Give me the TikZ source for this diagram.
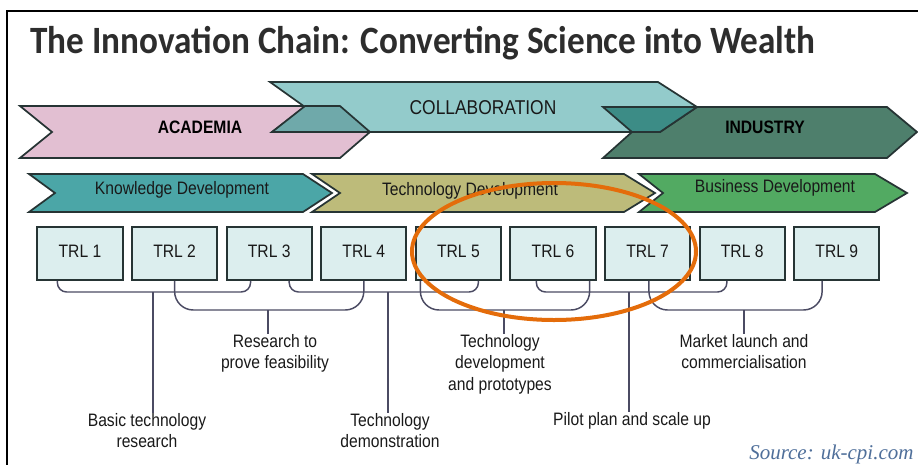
\documentclass[tikz,border=0pt]{standalone}
\usepackage{fontspec}
\setmainfont{Liberation Sans}
\newfontfamily\narrowfont[FakeStretch=0.87]{Liberation Sans}
\newfontfamily\titlefont[FakeStretch=0.91]{Carlito}
\newfontfamily\sourcefont{Liberation Serif}

\definecolor{outline}{RGB}{38,52,52}
\definecolor{academia}{RGB}{226,191,210}
\definecolor{collab}{RGB}{147,203,203}
\definecolor{acoverlap}{RGB}{111,169,170}
\definecolor{industry}{RGB}{78,127,108}
\definecolor{cioverlap}{RGB}{60,140,134}
\definecolor{knowledge}{RGB}{75,166,167}
\definecolor{techdev}{RGB}{189,187,122}
\definecolor{business}{RGB}{82,170,98}
\definecolor{trlfill}{RGB}{220,238,238}
\definecolor{brkline}{RGB}{75,75,99}
\definecolor{titlegray}{RGB}{45,45,45}
\definecolor{sourceblue}{RGB}{79,111,154}
\definecolor{ringorange}{RGB}{228,108,10}

\tikzset{every picture/.style={line width=0.75pt}}
\tikzset{
  chev/.style={draw=outline, line width=1.3pt, line join=miter},
  bandtext/.style={inner sep=0.75pt, text=black!90, font=\narrowfont\fontsize{13.5}{16}\selectfont},
  trlbox/.style={draw=outline, fill=trlfill, line width=1.5pt, minimum width=64pt, minimum height=39.5pt, inner sep=0pt, text depth=3pt, text=black!90, font=\narrowfont\fontsize{13.5}{15}\selectfont},
  brk/.style={draw=brkline, line width=1.1pt},
  steptext/.style={anchor=north, align=center, inner sep=0pt, text=black!90, font=\narrowfont\fontsize{13.5}{16}\selectfont},
}

\begin{document}
\begin{tikzpicture}[x=0.75pt,y=0.75pt,yscale=-1,xscale=1]
\useasboundingbox (0,0) rectangle (918,465);

%Frame
\draw [line width=1.2pt]  (918,11) -- (7,11) -- (7,465) ;

% Text Node
\node (title) [anchor=base west, inner sep=0pt, text=titlegray, font=\titlefont\bfseries\fontsize{29}{34}\selectfont] at (30,53) {The Innovation Chain: Converting Science into Wealth};

%Shape: Academia
\draw [chev, fill=academia] (20,106) -- (340,106) -- (370,132) -- (340,158) -- (20,158) -- (52,132) -- cycle ;
%Shape: Industry
\draw [chev, fill=industry] (603,107) -- (887,107) -- (917,132) -- (887,158) -- (603,158) -- (632,132) -- cycle ;
%Shape: Collaboration
\draw [chev, fill=collab] (270,82) -- (658,82) -- (697,107) -- (660,132) -- (272,132) -- (305,107) -- cycle ;
%Shape: overlaps
\draw [chev, fill=acoverlap] (305,106) -- (340,106) -- (370,132) -- (272,132) -- cycle ;
\draw [chev, fill=cioverlap] (603,107) -- (697,107) -- (660,132) -- (632,132) -- cycle ;

% Text Node
\node (academiatext) [bandtext, font=\narrowfont\bfseries\fontsize{13.5}{16}\selectfont, text=black] at (200,127) {ACADEMIA};
% Text Node
\node (collabtext) [bandtext, font=\narrowfont\fontsize{15}{18}\selectfont] at (483,108) {COLLABORATION};
% Text Node
\node (industrytext) [bandtext, font=\narrowfont\bfseries\fontsize{13.5}{16}\selectfont, text=black] at (765,127) {INDUSTRY};

%Shape: Knowledge Development
\draw [chev, fill=knowledge] (29,174) -- (303,174) -- (332,193) -- (303,212) -- (29,212) -- (55,193) -- cycle ;
%Shape: Technology Development
\draw [chev, fill=techdev] (312,174) -- (624,174) -- (655,193) -- (624,212) -- (312,212) -- (340,193) -- cycle ;
%Shape: Business Development
\draw [chev, fill=business] (639,174) -- (875,174) -- (907,193) -- (875,212) -- (639,212) -- (663,193) -- cycle ;

% Text Node
\node (knowtext) [bandtext] at (182,190) {Knowledge Development};
% Text Node
\node (techtext) [bandtext] at (470,191) {Technology Development};
% Text Node
\node (busitext) [bandtext] at (775,188) {Business Development};

%TRL boxes
\foreach \i in {1,...,9}
  \node (trl\i) [trlbox] at ({80+94.6*(\i-1)},253.5) {TRL \i};

%Bracket stems
\coordinate (s1) at (153,292);
\coordinate (s2) at (268,310);
\coordinate (s3) at (388,292);
\coordinate (s4) at (504,310);
\coordinate (s5) at (629,292);
\coordinate (s6) at (744,310);

% Text Node
\node (lab1) [steptext] at (147,413) {Basic technology\\research};
% Text Node
\node (lab2) [steptext] at (275,334) {Research to\\prove feasibility};
% Text Node
\node (lab3) [steptext] at (390,413) {Technology\\demonstration};
% Text Node
\node (lab4) [steptext] at (500,334) {Technology\\development\\and prototypes};
% Text Node
\node (lab5) [steptext] at (632,412) {Pilot plan and scale up};
% Text Node
\node (lab6) [steptext] at (744,334) {Market launch and\\commercialisation};

%Brackets
\draw [brk, rounded corners=7] ([xshift=-17pt]trl1.south) |- (s1) -| ([xshift=-14pt]trl3.south) ;
\draw [brk, rounded corners=14] (trl2.south) |- (s2) -| (trl4.south) ;
\draw [brk, rounded corners=7] ([xshift=15pt]trl3.south) |- (s3) -| ([xshift=15pt]trl5.south) ;
\draw [brk, rounded corners=14] ([xshift=-28.5pt]trl5.south) |- (s4) -| ([xshift=27.5pt]trl6.south) ;
\draw [brk, rounded corners=7] ([xshift=-12.5pt]trl6.south) |- (s5) -| ([xshift=-11.5pt]trl8.south) ;
\draw [brk, rounded corners=14] ([xshift=1pt]trl7.south) |- (s6) -| ([xshift=-11pt]trl9.south) ;

\draw [brk] (s1) -- (s1 |- lab1.north) ;
\draw [brk] (s2) -- (s2 |- lab2.north) ;
\draw [brk] (s3) -- (s3 |- lab3.north) ;
\draw [brk] (s4) -- (s4 |- lab4.north) ;
\draw [brk] (s5) -- (s5 |- lab5.north) ;
\draw [brk] (s6) -- (s6 |- lab6.north) ;

%Shape: Ellipse
\draw [ringorange, line width=3pt] (554,251.5) ellipse (142 and 68.5) ;

% Text Node
\node (source) [anchor=base east, inner sep=0pt, text=sourceblue, font=\sourcefont\itshape\fontsize{15.75}{18}\selectfont] at (914,459) {Source: uk-cpi.com};

\end{tikzpicture}
\end{document}
